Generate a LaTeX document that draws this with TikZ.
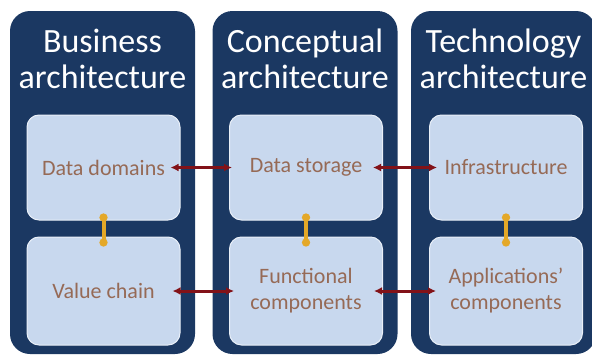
\documentclass[tikz,border=0pt]{standalone}
\usepackage{fontspec}
\setmainfont{Carlito}
\usetikzlibrary{arrows.meta}

\definecolor{navy}{RGB}{27,56,98}
\definecolor{paleblue}{RGB}{200,216,238}
\definecolor{linkred}{RGB}{130,18,24}
\definecolor{gold}{RGB}{228,168,40}
\definecolor{boxtext}{RGB}{150,106,86}

\begin{document}
\begin{tikzpicture}[x=1pt,y=-1pt,
    column/.style={fill=navy,rounded corners=20pt,minimum width=185pt,minimum height=343pt,inner sep=0pt},
    heading/.style={text=white,inner sep=0pt,align=center,font=\fontsize{34}{36}\selectfont},
    layer/.style={fill=paleblue,draw=white!60!paleblue,line width=1pt,rounded corners=12pt,
        minimum width=153pt,inner sep=0pt,text=boxtext,align=center,font=\fontsize{22}{26}\selectfont},
    link/.style={linkred,line width=3pt,{Latex[length=8pt,width=8pt]}-{Latex[length=8pt,width=8pt]}},
    tie/.style={gold,line width=4pt,line cap=round,{Circle[length=8pt,width=8pt]}-{Circle[length=8pt,width=8pt]}}]

    \useasboundingbox (0,0) rectangle (592,356);

    % the three columns
    \node[column] (business) at (102.5,182.5) {};
    \node[column] (conceptual) at (305,182.5) {};
    \node[column] (technology) at (503.5,182.5) {};

    % headings
    \node[heading] (bizhead) at (102.5,59) {Business\\architecture};
    \node[heading] (conhead) at (305,59) {Conceptual\\architecture};
    \node[heading] (techhead) at (503.5,59) {Technology\\architecture};

    % upper layer
    \node[layer,minimum height=105pt] (domains) at (103.5,167.5) {Data domains};
    \node[layer,minimum height=105pt] (storage) at (306,167.5) {Data storage};
    \node[layer,minimum height=105pt] (infra) at (506,167.5) {Infrastructure};

    % lower layer
    \node[layer,minimum height=108pt] (chain) at (103.5,291) {Value chain};
    \node[layer,minimum height=108pt] (functional) at (306,291) {Functional\\components};
    \node[layer,minimum height=108pt] (apps) at (506,291) {Applications'\\components};

    % links across the columns
    \draw[link] ([xshift=-10pt]domains.east) -- ([xshift=3pt]storage.west);
    \draw[link] ([xshift=-10pt]storage.east) -- ([xshift=8pt]infra.west);
    \draw[link] ([xshift=-8pt]chain.east) -- ([xshift=5pt]functional.west);
    \draw[link] ([xshift=-9pt]functional.east) -- ([xshift=7pt]apps.west);

    % ties within each column
    \draw[tie] ([yshift=7pt]domains.south) -- ([yshift=-10pt]chain.north);
    \draw[tie] ([yshift=7pt]storage.south) -- ([yshift=-10pt]functional.north);
    \draw[tie] ([yshift=7pt]infra.south) -- ([yshift=-10pt]apps.north);
\end{tikzpicture}
\end{document}
